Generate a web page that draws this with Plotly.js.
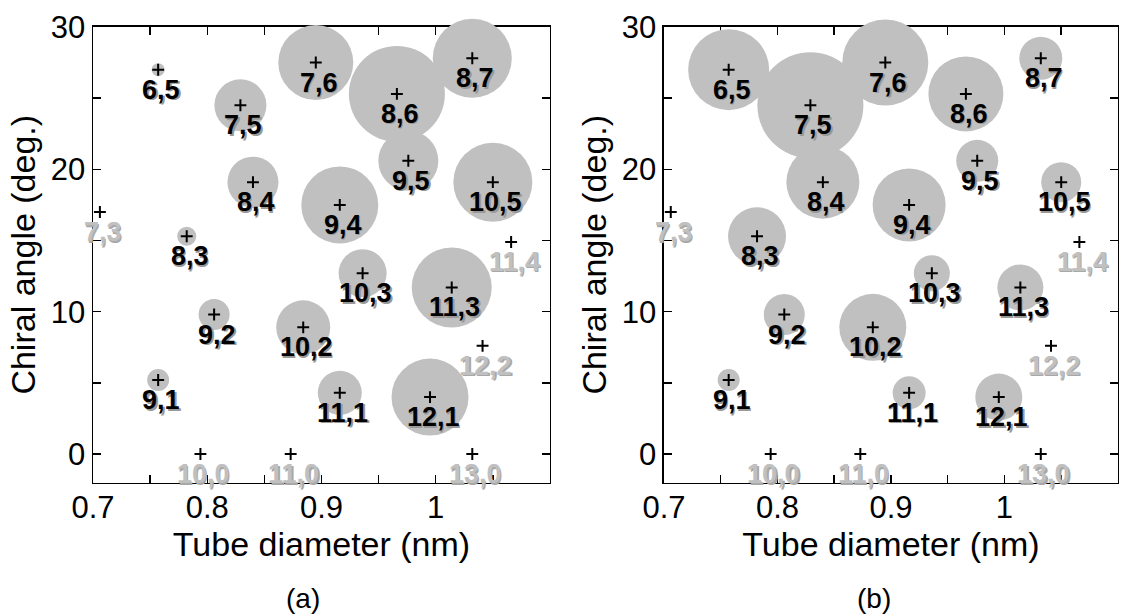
<!DOCTYPE html>
<html>
<head>
<meta charset="utf-8">
<script src="https://cdn.plot.ly/plotly-3.0.1.min.js"></script>
<style>
html, body { margin: 0; padding: 0; background: #ffffff; }
#chart { width: 1121px; height: 616px; }
</style>
</head>
<body>
<div id="chart"></div>
<script>
// (n,m) chirality labels
const labels = ['6,5','7,5','7,6','8,6','8,7','8,4','9,4','9,5','10,5','8,3','10,3','11,3','9,2','10,2','9,1','11,1','12,1','7,3','11,4','12,2','10,0','11,0','13,0'];
// tube diameter (nm)
const diameter = [0.757,0.829,0.895,0.966,1.032,0.840,0.916,0.976,1.050,0.782,0.936,1.014,0.806,0.884,0.757,0.916,0.995,0.706,1.066,1.041,0.794,0.873,1.032];
// chiral angle (deg.)
const chiralAngle = [27.0,24.5,27.5,25.3,27.8,19.1,17.5,20.6,19.1,15.3,12.7,11.7,9.8,8.9,5.2,4.3,4.0,17.0,14.9,7.6,0,0,0];
// relative intensity (a.u.), panel (a)
const intensityA = [0.13,0.52,0.75,0.96,0.79,0.51,0.77,0.60,0.79,0.19,0.48,0.80,0.31,0.54,0.22,0.44,0.77,0,0,0,0,0,0];
// relative intensity (a.u.), panel (b)
const intensityB = [0.81,1.06,0.86,0.75,0.43,0.73,0.73,0.42,0.40,0.58,0.36,0.46,0.41,0.67,0.22,0.33,0.47,0,0,0,0,0,0];
// observed (black label) or not observed (grey label)
const observed = [1,1,1,1,1,1,1,1,1,1,1,1,1,1,1,1,1,0,0,0,0,0,0];

const xTickVals = [0.7,0.75,0.8,0.85,0.9,0.95,1.0,1.05,1.1];
const xTickText = ['0.7','','0.8','','0.9','','1','',''];
const yTickVals = [0,5,10,15,20,25,30];
const yTickText = ['0','','10','','20','','30'];
const panelLabels = ['(a)','(b)'];
const xTitle = 'Tube diameter (nm)';
const yTitle = 'Chiral angle (deg.)';

const FONT = 'Liberation Sans, Arial, Helvetica, sans-serif';
const BUBBLE = '#c0c0c0';

function bubbleTrace(intensity, xa, ya) {
  const xs = [], ys = [], ss = [];
  intensity.forEach((v, i) => { if (v > 0) { xs.push(diameter[i]); ys.push(chiralAngle[i]); ss.push(v); } });
  return {
    type: 'scatter', mode: 'markers', x: xs, y: ys, xaxis: xa, yaxis: ya,
    cliponaxis: false, hoverinfo: 'skip', showlegend: false,
    marker: { size: ss, sizemode: 'diameter', sizeref: 0.01, color: BUBBLE, line: { width: 0 }, opacity: 1 }
  };
}
function crossTrace(xa, ya) {
  return {
    type: 'scatter', mode: 'markers', x: diameter, y: chiralAngle, xaxis: xa, yaxis: ya,
    cliponaxis: false, hoverinfo: 'skip', showlegend: false,
    marker: { symbol: 'cross-thin-open', size: 8.5, color: '#000000', line: { width: 2, color: '#000000' } }
  };
}

const annotations = [];
[['x','y'],['x2','y2']].forEach(([xr, yr]) => {
  labels.forEach((lab, i) => {
    const obs = observed[i] === 1;
    annotations.push({
      xref: xr, yref: yr, x: diameter[i], y: chiralAngle[i], text: lab, showarrow: false,
      xanchor: 'center', yanchor: 'middle', xshift: 4.5, yshift: -21.5,
      font: { family: FONT, size: 27, color: obs ? '#999999' : '#a8a8a8', weight: 'bold' }
    });
    annotations.push({
      xref: xr, yref: yr, x: diameter[i], y: chiralAngle[i], text: lab, showarrow: false,
      xanchor: 'center', yanchor: 'middle', xshift: 3, yshift: -20,
      font: { family: FONT, size: 27, color: obs ? '#000000' : '#c0c0c0', weight: 'bold' }
    });
  });
});
panelLabels.forEach((t, k) => {
  annotations.push({
    xref: 'paper', yref: 'paper', x: k === 0 ? 0.2703 : 0.7797, y: 0.0, text: t, showarrow: false,
    xanchor: 'center', yanchor: 'bottom', font: { family: FONT, size: 28, color: '#000000' }
  });
});

function xAxis(domain, anchor) {
  return {
    domain: domain, anchor: anchor, range: [0.7, 1.1], autorange: false,
    tickmode: 'array', tickvals: xTickVals, ticktext: xTickText,
    ticks: 'inside', ticklen: 8, tickwidth: 1.5, tickcolor: '#000000',
    showline: true, linecolor: '#000000', linewidth: 1.5, mirror: 'ticks',
    showgrid: false, zeroline: false, layer: 'below traces',
    ticklabelstandoff: -3,
    tickfont: { family: FONT, size: 31, color: '#000000' },
    title: { text: xTitle, standoff: 6, font: { family: FONT, size: 34, color: '#000000' } }
  };
}
function yAxis(anchor) {
  return {
    domain: [0.2167, 0.9562], anchor: anchor, range: [-2, 30], autorange: false,
    tickmode: 'array', tickvals: yTickVals, ticktext: yTickText,
    ticks: 'inside', ticklen: 8, tickwidth: 1.5, tickcolor: '#000000',
    showline: true, linecolor: '#000000', linewidth: 1.5, mirror: 'ticks',
    showgrid: false, zeroline: false, layer: 'below traces',
    tickfont: { family: FONT, size: 31, color: '#000000' },
    title: { text: yTitle, standoff: 5, font: { family: FONT, size: 34, color: '#000000' } }
  };
}

const data = [
  bubbleTrace(intensityA, 'x', 'y'), crossTrace('x', 'y'),
  bubbleTrace(intensityB, 'x2', 'y2'), crossTrace('x2', 'y2')
];
const layout = {
  width: 1121, height: 616,
  margin: { l: 0, r: 0, t: 0, b: 0 },
  paper_bgcolor: '#ffffff', plot_bgcolor: '#ffffff',
  showlegend: false,
  xaxis: xAxis([0.0830, 0.4906], 'y'),
  yaxis: yAxis('x'),
  xaxis2: xAxis([0.5923, 0.9973], 'y2'),
  yaxis2: yAxis('x2'),
  annotations: annotations,
  font: { family: FONT }
};
Plotly.newPlot('chart', data, layout, { displayModeBar: false, staticPlot: true });
</script>
</body>
</html>
